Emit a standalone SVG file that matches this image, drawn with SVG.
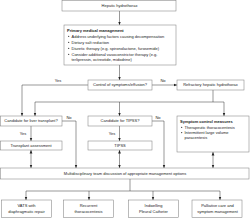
<svg xmlns="http://www.w3.org/2000/svg" width="250" height="218" viewBox="0 0 250 218">
<defs>
<marker id="ah" markerWidth="4" markerHeight="4" refX="3.5" refY="2" orient="auto" markerUnits="userSpaceOnUse">
<path d="M0,0.6 L3.5,2 L0,3.4 Z" fill="#222"/>
</marker>
<marker id="as" markerWidth="4" markerHeight="4" refX="0.5" refY="2" orient="auto" markerUnits="userSpaceOnUse">
<path d="M4,0.6 L0.5,2 L4,3.4 Z" fill="#222"/>
</marker>
<style>
.box{fill:#fff;stroke:#777;stroke-width:0.5}
.t{font-family:"Liberation Sans",Arial,sans-serif;font-size:4px;fill:#222}
.c{text-anchor:middle}
.b{font-weight:bold}
.ln{fill:none;stroke:#333;stroke-width:0.5}
.dot{fill:#222}
</style>
</defs>
<g id="connectors">
<path class="ln" d="M119.5,11 V25" marker-end="url(#ah)"/>
<path class="ln" d="M119.5,65 V80" marker-end="url(#ah)"/>
<path class="ln" d="M88,85 H22 V116" marker-end="url(#ah)"/>
<path class="ln" d="M152,85 H177" marker-end="url(#ah)"/>
<path class="ln" d="M213,90 V102"/>
<path class="ln" d="M35,102 H224"/>
<path class="ln" d="M35,102 V116" marker-end="url(#ah)"/>
<path class="ln" d="M119.5,102 V116" marker-end="url(#ah)"/>
<path class="ln" d="M224,102 V116" marker-end="url(#ah)"/>
<path class="ln" d="M31,126 V141" marker-end="url(#ah)"/>
<path class="ln" d="M119.5,126 V141" marker-end="url(#ah)"/>
<path class="ln" d="M62,121 H76 V168" marker-end="url(#ah)"/>
<path class="ln" d="M152,121 H164 V168" marker-end="url(#ah)"/>
<path class="ln" d="M31,150 V168" marker-start="url(#as)" marker-end="url(#ah)"/>
<path class="ln" d="M119.5,150 V168" marker-start="url(#as)" marker-end="url(#ah)"/>
<path class="ln" d="M213,152 V168" marker-start="url(#as)" marker-end="url(#ah)"/>
<path class="ln" d="M130,179 V191"/>
<path class="ln" d="M26,191 H220"/>
<path class="ln" d="M26,191 V200" marker-end="url(#ah)"/>
<path class="ln" d="M89,191 V200" marker-end="url(#ah)"/>
<path class="ln" d="M153,191 V200" marker-end="url(#ah)"/>
<path class="ln" d="M220,191 V200" marker-end="url(#ah)"/>
<text class="t c" x="58" y="82">Yes</text>
<text class="t c" x="163" y="82">No</text>
<text class="t c" x="23" y="135">Yes</text>
<text class="t c" x="112" y="135">Yes</text>
<text class="t c" x="69" y="119">No</text>
<text class="t c" x="158" y="119">No</text>
</g>
<g id="hepatic">
<rect class="box" x="62" y="0.5" width="114" height="10.5"/>
<text class="t c" x="119.5" y="7.2">Hepatic hydrothorax</text>
</g>
<g id="primary">
<rect class="box" x="64" y="25" width="112" height="40"/>
<text class="t b" x="67" y="31.5">Primary medical management</text>
<circle class="dot" cx="68.7" cy="36.3" r="0.6"/>
<text class="t" x="71.5" y="37.5">Address underlying factors causing decompensation</text>
<circle class="dot" cx="68.7" cy="42.3" r="0.6"/>
<text class="t" x="71.5" y="43.5">Dietary salt reduction</text>
<circle class="dot" cx="68.7" cy="48.3" r="0.6"/>
<text class="t" x="71.5" y="49.5">Diuretic therapy (e.g. spironolactone, furosemide)</text>
<circle class="dot" cx="68.7" cy="54.3" r="0.6"/>
<text class="t" x="71.5" y="55.5">Consider additional vasoconstrictor therapy (e.g.</text>
<text class="t" x="71.5" y="61.3">terlipressin, octreotide, midodrine)</text>
</g>
<g id="control">
<rect class="box" x="88" y="80" width="64" height="10"/>
<text class="t c" x="120" y="86.4">Control of symptoms/effusion?</text>
</g>
<g id="refractory">
<rect class="box" x="177" y="80" width="67" height="10"/>
<text class="t c" x="210.5" y="86.4">Refractory hepatic hydrothorax</text>
</g>
<g id="cand-liver">
<rect class="box" x="0.5" y="116" width="61.5" height="10"/>
<text class="t c" x="31" y="122.4">Candidate for liver transplant?</text>
</g>
<g id="cand-tipss">
<rect class="box" x="88" y="116" width="64" height="10"/>
<text class="t c" x="120" y="122.4">Candidate for TIPSS?</text>
</g>
<g id="symptom">
<rect class="box" x="177" y="116" width="72" height="36"/>
<text class="t b" x="180" y="122.5">Symptom control measures</text>
<circle class="dot" cx="181.7" cy="127.3" r="0.6"/>
<text class="t" x="184.5" y="128.5">Therapeutic thoracocentesis</text>
<circle class="dot" cx="181.7" cy="132.6" r="0.6"/>
<text class="t" x="184.5" y="133.8">Intermittent large volume</text>
<text class="t" x="184.5" y="139.3">paracentesis</text>
</g>
<g id="transplant">
<rect class="box" x="0.5" y="141" width="61.5" height="9"/>
<text class="t c" x="31" y="146.9">Transplant assessment</text>
</g>
<g id="tipss">
<rect class="box" x="88" y="141" width="64" height="9"/>
<text class="t c" x="120" y="146.9">TIPSS</text>
</g>
<g id="mdt">
<rect class="box" x="0.5" y="168" width="248.5" height="11"/>
<text class="t c" x="125" y="174.9">Multidisciplinary team discussion of appropriate management options</text>
</g>
<g id="vats">
<rect class="box" x="1.5" y="200" width="50" height="17.3"/>
<text class="t c" x="26.5" y="206.9">VATS with</text>
<text class="t c" x="26.5" y="213.4">diaphragmatic repair</text>
</g>
<g id="recurrent">
<rect class="box" x="63.5" y="200" width="50" height="17.3"/>
<text class="t c" x="88.5" y="206.9">Recurrent</text>
<text class="t c" x="88.5" y="213.4">thoracocentesis</text>
</g>
<g id="ipc">
<rect class="box" x="128.5" y="200" width="50" height="17.3"/>
<text class="t c" x="153.5" y="206.9">Indwelling</text>
<text class="t c" x="153.5" y="213.4">Pleural Catheter</text>
</g>
<g id="palliative">
<rect class="box" x="192" y="200" width="50" height="17.3"/>
<text class="t c" x="217.5" y="206.9">Palliative care and</text>
<text class="t c" x="217.5" y="213.4">symptom management</text>
</g>
</svg>
